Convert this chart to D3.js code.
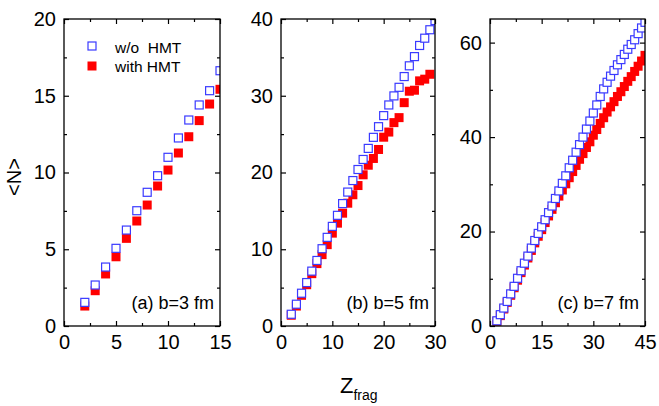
<!DOCTYPE html>
<html>
<head>
<meta charset="utf-8">
<script src="https://cdn.jsdelivr.net/npm/d3@7"></script>
<style>
  body { margin: 0; background: #fff; }
  svg { display: block; }
  text { font-family: "Liberation Sans", Arial, sans-serif; fill: #000; }
</style>
</head>
<body>
<svg id="chart" width="659" height="406"></svg>
<script>
// Mean neutron number <N> versus fragment charge Z_frag, three impact parameters.

// (a) b = 3 fm
const zA      = [2, 3, 4, 5, 6, 7, 8, 9, 10, 11, 12, 13, 14, 15];
const noHmtA  = [1.54, 2.67, 3.84, 5.06, 6.25, 7.51, 8.71, 9.79, 10.99, 12.25, 13.42, 14.40, 15.33, 16.63];
const hmtA    = [1.30, 2.30, 3.39, 4.51, 5.71, 6.84, 7.88, 9.12, 10.16, 11.27, 12.33, 13.38, 14.46, 15.42];

// (b) b = 5 fm
const zB      = [2, 3, 4, 5, 6, 7, 8, 9, 10, 11, 12, 13, 14, 15, 16, 17, 18, 19, 20, 21, 22, 23, 24, 25, 26, 27, 28, 29, 30];
const noHmtB  = [1.53, 2.84, 4.27, 5.66, 7.15, 8.54, 10.07, 11.55, 12.98, 14.42, 15.95, 17.45, 18.95, 20.39, 21.70,
                 23.14, 24.58, 25.97, 27.41, 28.80, 29.98, 31.10, 32.50, 33.90, 35.10, 36.55, 37.50, 38.60, 39.80];
const zBh     = [2, 3, 4, 5, 6, 7, 8, 9, 10, 11, 12, 13, 14, 15, 16, 17, 18, 19, 20, 21, 22, 23, 24, 25, 26, 27, 28, 29];
const hmtB    = [1.40, 2.60, 4.00, 5.38, 6.82, 8.13, 9.30, 10.60, 12.10, 13.40, 14.70, 16.00, 17.10, 18.30,
                 19.70, 20.95, 21.83, 23.00, 24.60, 25.27, 26.50, 27.15, 29.10, 30.59, 30.72, 31.94, 32.16, 32.80];

// (c) b = 7 fm
const zC      = [2, 3, 4, 5, 6, 7, 8, 9, 10, 11, 12, 13, 14, 15, 16, 17, 18, 19, 20, 21, 22, 23,
                 24, 25, 26, 27, 28, 29, 30, 31, 32, 33, 34, 35, 36, 37, 38, 39, 40, 41, 42, 43, 44, 45];
const noHmtC  = [1.1, 2.4, 3.8, 5.2, 6.8, 8.4, 10.1, 11.7, 13.3, 14.8, 16.5, 18.1, 19.6, 21.0, 22.5, 24.0, 25.4,
                 27.0, 28.6, 30.2, 31.8, 33.5, 35.1, 36.8, 38.4, 40.0, 41.7, 43.4, 45.1, 46.8, 48.6, 50.2, 51.6,
                 52.9, 54.1, 55.3, 56.4, 57.5, 58.6, 59.6, 60.6, 61.9, 63.1, 64.3];
const hmtC    = [1.0, 2.2, 3.6, 5.0, 6.5, 8.1, 9.7, 11.3, 12.9, 14.4, 16.0, 17.6, 19.0, 20.4, 21.9, 23.3, 24.7,
                 26.1, 27.5, 28.8, 30.1, 31.4, 32.7, 34.0, 35.3, 36.5, 37.8, 39.0, 40.4, 41.6, 42.9, 44.1, 45.3,
                 46.4, 47.5, 48.6, 49.6, 50.7, 51.8, 52.8, 53.9, 55.0, 56.1, 57.3];

// Axis ticks
const xMajorA = [0, 5, 10, 15],        xMinorA = [2.5, 7.5, 12.5];
const yMajorA = [0, 5, 10, 15, 20],    yMinorA = [2.5, 7.5, 12.5, 17.5];
const xMajorB = [0, 10, 20, 30],       xMinorB = [5, 15, 25];
const yMajorB = [0, 10, 20, 30, 40],   yMinorB = [5, 15, 25, 35];
const xMajorC = [0, 15, 30, 45],       xMinorC = [7.5, 22.5, 37.5];
const yMajorC = [0, 20, 40, 60],       yMinorC = [10, 30, 50];

const seriesNames = ["w/o  HMT", "with HMT"];
const panelLabels = ["(a) b=3 fm", "(b) b=5 fm", "(c) b=7 fm"];

const BLUE = "#3a3aff", RED = "#ff0000";
const TOP = 19, BOTTOM = 326;

const panels = [
  { left: 64,  right: 220, xDom: [0, 15], yDom: [0, 20],
    zNo: zA, no: noHmtA, zH: zA, h: hmtA,
    xMaj: xMajorA, xMin: xMinorA, yMaj: yMajorA, yMin: yMinorA, label: panelLabels[0] },
  { left: 281, right: 435, xDom: [0, 30], yDom: [0, 40],
    zNo: zB, no: noHmtB, zH: zBh, h: hmtB,
    xMaj: xMajorB, xMin: xMinorB, yMaj: yMajorB, yMin: yMinorB, label: panelLabels[1] },
  { left: 490, right: 645, xDom: [0, 45], yDom: [0, 65],
    zNo: zC, no: noHmtC, zH: zC, h: hmtC,
    xMaj: xMajorC, xMin: xMinorC, yMaj: yMajorC, yMin: yMinorC, label: panelLabels[2] }
];

const svg = d3.select("#chart");
const defs = svg.append("defs");

panels.forEach((p, i) => {
  const x = d3.scaleLinear().domain(p.xDom).range([p.left, p.right]);
  const y = d3.scaleLinear().domain(p.yDom).range([BOTTOM, TOP]);
  const g = svg.append("g");

  defs.append("clipPath").attr("id", "clip" + i)
    .append("rect")
    .attr("x", p.left).attr("y", TOP)
    .attr("width", p.right - p.left).attr("height", BOTTOM - TOP);

  // markers: filled red first, open blue on top
  const marks = g.append("g").attr("clip-path", `url(#clip${i})`);
  const sR = 9, sB = 8;
  marks.selectAll("rect.h").data(p.h).join("rect")
    .attr("class", "h")
    .attr("x", (d, j) => x(p.zH[j]) - sR / 2)
    .attr("y", d => y(d) - sR / 2)
    .attr("width", sR).attr("height", sR)
    .attr("fill", RED);
  marks.selectAll("rect.no").data(p.no).join("rect")
    .attr("class", "no")
    .attr("x", (d, j) => x(p.zNo[j]) - sB / 2)
    .attr("y", d => y(d) - sB / 2)
    .attr("width", sB).attr("height", sB)
    .attr("fill", "#fff")
    .attr("stroke", BLUE).attr("stroke-width", 1.2);

  // axes with inward ticks on every side
  const addAxis = (axisFn, scale, vals, size, transform, labels) => {
    const a = axisFn(scale).tickValues(vals).tickSizeInner(-size).tickSizeOuter(0);
    if (labels) a.tickPadding(labels); else a.tickFormat("");
    const ag = g.append("g").attr("transform", transform).call(a);
    ag.select(".domain").remove();
    ag.selectAll("line").attr("stroke", "#000").attr("stroke-width", 1.2);
    ag.selectAll("text").attr("font-size", 20).attr("fill", "#000")
      .style("font-family", '"Liberation Sans", Arial, sans-serif');
    return ag;
  };
  addAxis(d3.axisBottom, x, p.xMaj, 5, `translate(0,${BOTTOM})`, 9);
  addAxis(d3.axisBottom, x, p.xMin, 3, `translate(0,${BOTTOM})`);
  addAxis(d3.axisTop, x, p.xMaj, 5, `translate(0,${TOP})`);
  addAxis(d3.axisTop, x, p.xMin, 3, `translate(0,${TOP})`);
  addAxis(d3.axisLeft, y, p.yMaj, 5, `translate(${p.left},0)`, 8);
  addAxis(d3.axisLeft, y, p.yMin, 3, `translate(${p.left},0)`);
  addAxis(d3.axisRight, y, p.yMaj, 5, `translate(${p.right},0)`);
  addAxis(d3.axisRight, y, p.yMin, 3, `translate(${p.right},0)`);

  g.append("rect")
    .attr("x", p.left).attr("y", TOP)
    .attr("width", p.right - p.left).attr("height", BOTTOM - TOP)
    .attr("fill", "none").attr("stroke", "#000").attr("stroke-width", 1.3);

  g.append("text")
    .attr("x", p.right - 6).attr("y", 309)
    .attr("text-anchor", "end").attr("font-size", 18)
    .text(p.label);
});

// legend in panel (a)
const leg = svg.append("g");
leg.append("rect").attr("x", 92 - 4).attr("y", 46 - 4).attr("width", 8).attr("height", 8)
  .attr("fill", "#fff").attr("stroke", BLUE).attr("stroke-width", 1.2);
leg.append("rect").attr("x", 92 - 4.5).attr("y", 66 - 4.5).attr("width", 9).attr("height", 9)
  .attr("fill", RED);
leg.append("text").attr("x", 115).attr("y", 52.5).attr("font-size", 15.5)
  .attr("xml:space", "preserve").style("white-space", "pre").text(seriesNames[0]);
leg.append("text").attr("x", 115).attr("y", 71.5).attr("font-size", 15.5).text(seriesNames[1]);

// axis titles
svg.append("text")
  .attr("transform", "translate(21,177) rotate(-90)")
  .attr("text-anchor", "middle").attr("font-size", 20)
  .text("<N>");
const zt = svg.append("text").attr("x", 340).attr("y", 393).attr("font-size", 22);
zt.append("tspan").text("Z");
zt.append("tspan").attr("font-size", 14).attr("dy", 7).text("frag");
</script>
</body>
</html>
